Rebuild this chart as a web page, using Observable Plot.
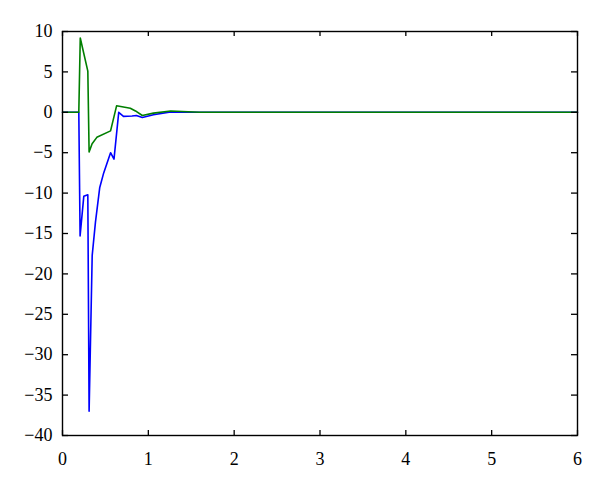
<!DOCTYPE html>
<html>
<head>
<meta charset="utf-8">
<script src="https://cdn.jsdelivr.net/npm/d3@7"></script>
<script src="https://cdn.jsdelivr.net/npm/@observablehq/plot@0.6"></script>
<style>
  html, body { margin: 0; padding: 0; background: #fff; }
  #chart svg { display: block; }
</style>
</head>
<body>
<div id="chart"></div>
<script>
const xTicks = [0, 1, 2, 3, 4, 5, 6];
const yTicks = [10, 5, 0, -5, -10, -15, -20, -25, -30, -35, -40];

const blueT = [0, 0.19, 0.205, 0.248, 0.295, 0.31, 0.346, 0.384, 0.434, 0.48, 0.56, 0.6, 0.655, 0.71, 0.81, 0.86, 0.93, 1.06, 1.26, 1.5, 6];
const blueV = [0, 0, -15.3, -10.4, -10.2, -37, -17.7, -13.6, -9.3, -7.5, -5, -5.8, 0, -0.5, -0.45, -0.4, -0.65, -0.3, 0.05, 0, 0];

const greenT = [0, 0.19, 0.207, 0.295, 0.31, 0.345, 0.4, 0.56, 0.63, 0.79, 0.85, 0.93, 1.06, 1.26, 1.6, 6];
const greenV = [0, 0, 9.2, 5.1, -4.9, -3.9, -3.1, -2.3, 0.8, 0.5, 0.17, -0.4, -0.1, 0.17, 0, 0];

const blue = blueT.map((t, i) => ({t, v: blueV[i]}));
const green = greenT.map((t, i) => ({t, v: greenV[i]}));

const fmt = d => d < 0 ? "\u2212" + Math.abs(d) : String(d);
const serif = "Liberation Serif";

const chart = Plot.plot({
  width: 600,
  height: 486,
  marginLeft: 62,
  marginRight: 23,
  marginTop: 31,
  marginBottom: 51,
  x: {domain: [0, 6], axis: null},
  y: {domain: [-40, 10], axis: null},
  marks: [
    Plot.line(blue, {x: "t", y: "v", stroke: "#0000ff", strokeWidth: 1.6}),
    Plot.line(green, {x: "t", y: "v", stroke: "#007f00", strokeWidth: 1.6}),
    Plot.frame({stroke: "#000", strokeWidth: 1.4}),
    Plot.tickX(xTicks, {x: d => d, insetTop: 399, stroke: "#000", strokeWidth: 1.3}),
    Plot.tickX(xTicks, {x: d => d, insetBottom: 399, stroke: "#000", strokeWidth: 1.3}),
    Plot.tickY(yTicks, {y: d => d, insetRight: 509, stroke: "#000", strokeWidth: 1.3}),
    Plot.tickY(yTicks, {y: d => d, insetLeft: 509, stroke: "#000", strokeWidth: 1.3}),
    Plot.text(xTicks, {x: d => d, y: -40, text: fmt, dy: 24, fontSize: 18, fontFamily: serif, fill: "#000"}),
    Plot.text(yTicks, {x: 0, y: d => d, text: fmt, dx: -10, textAnchor: "end", fontSize: 18, fontFamily: serif, fill: "#000"})
  ]
});
document.getElementById("chart").appendChild(chart);
</script>
</body>
</html>
